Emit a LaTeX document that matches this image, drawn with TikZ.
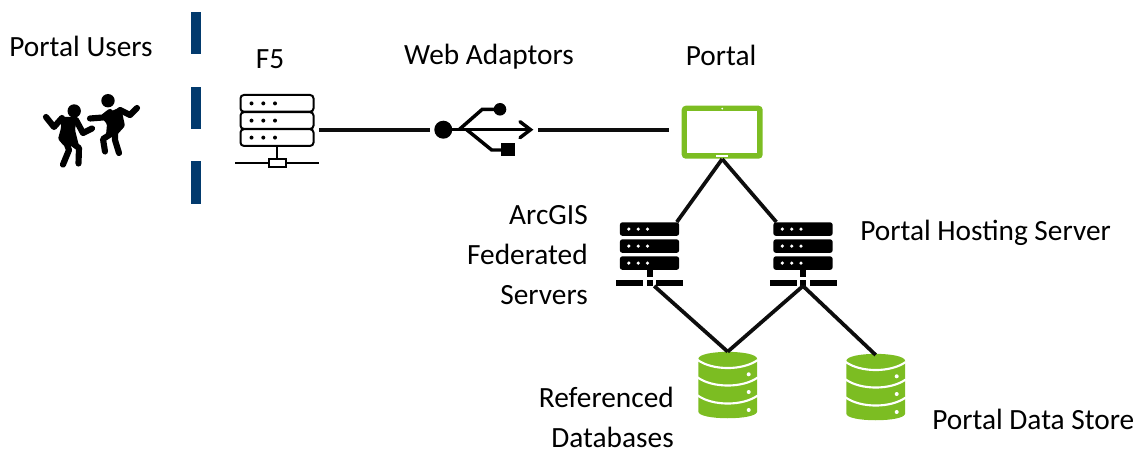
\documentclass[tikz,border=0pt]{standalone}
\usepackage{fontspec}
\setmainfont{Carlito}
\usepackage{xcolor}
\usepackage{tikz}
\usetikzlibrary{calc}
\usetikzlibrary{positioning}
\definecolor{barblue}{HTML}{023A6D}
\definecolor{iconkgreen}{HTML}{7CBD22}
\tikzstyle{lbl} = [draw=none, inner sep = 0, font=\fontsize{22}{30}\selectfont]
\tikzstyle{iconbox} = [draw=none, inner sep = 0, outer sep = 0]
\tikzstyle{wire} = [draw=black!95, line width = 2.8pt]
\tikzset{
  pics/srvoutline/.style={code={
    \foreach \rowy in {-34.7, -17.5, -0.5} {
      \draw [line width=1.5pt, rounded corners=2.5pt, fill=white] (-36.5,\rowy) rectangle (36.5,\rowy+16.7);
      \foreach \dotx in {-25.5, -13.7, -2} {
        \fill (\dotx,\rowy+8.4) circle (2);
      }
    }
    \draw [line width=1.5pt] (0,16.5) -- (0,29.7);
    \draw [line width=1.5pt] (-42,33.8) -- (42,33.8);
    \draw [line width=1.5pt, fill=white] (-8.5,29.6) rectangle (9,37.8);
  }},
  pics/srvblack/.style={code={
    \foreach \rowy in {-31.7, -14.7, 2.3} {
      \fill [rounded corners=2pt] (-29.7,\rowy) rectangle (29.7,\rowy+13.6);
      \foreach \dotx in {-20.7, -11.3, -2} {
        \fill [white] (\dotx,\rowy+6.8) circle (1.8);
      }
    }
    \fill (-3,16) rectangle (3,23);
    \fill (-33.5,26) rectangle (-6.5,32);
    \fill (-3,26) rectangle (3,32);
    \fill (6.5,26) rectangle (33.5,32);
  }},
  pics/dbgreen/.style={code={
    \fill [iconkgreen] (-29.4,-26) .. controls (-29.4,-35.5) and (29.4,-35.5) .. (29.4,-26)
      -- (29.4,26.5) .. controls (29.4,35.5) and (-29.4,35.5) .. (-29.4,26.5) -- cycle;
    \foreach \sidey in {-25, -7.5, 10.5} {
      \draw [white, line width=1.6pt] (-30,\sidey) .. controls (-15,\sidey+10.7) and (15,\sidey+10.7) .. (30,\sidey);
    }
    \foreach \doty in {-10.7, 7, 25} {
      \fill [white] (21,\doty) circle (2);
    }
  }},
  pics/tabletgreen/.style={code={
    \fill [iconkgreen, rounded corners=3pt] (-40.5,-24) rectangle (40.5,29);
    \fill [white] (-35,-18.4) rectangle (35,23);
    \fill [white] (0,-21) circle (1);
    \fill [white] (-6,25) rectangle (6.2,27.3);
  }},
  pics/usbplug/.style={code={
    \fill (-40.7,0) circle (9);
    \draw [line width=2pt] (-40,0) -- (46,0);
    \draw [line width=2.6pt, line cap=round] (36,-8) -- (46.5,0) -- (36,8);
    \draw [line width=2.6pt] (-25,0) -- (-1.7,-20.4) -- (14,-20.4);
    \fill (16,-20.4) circle (6.3);
    \draw [line width=2.6pt] (-17.3,0) -- (7.7,20.3) -- (20,20.3);
    \fill (17,13.6) rectangle (31,26.3);
  }},
  pics/dancers/.style={code={
    \tikzset{limb/.style={line width=4.6pt, line cap=round, line join=round}}
    % left figure
    \fill (74.2,111) circle (6.7);
    \draw [limb] (46,117) -- (54,127) -- (62,118);
    \fill [rounded corners=1pt] (61,117) -- (77,117) -- (75,130) -- (79,146) -- (64,146) -- (58,139) -- (61,128) -- cycle;
    \draw [limb] (76,120) -- (83,133) -- (92,128.5);
    \draw [limb] (66,142) -- (69,150) -- (63,164.5);
    \draw [limb] (68,140) -- (79,148) -- (78.5,163.5);
    % right figure
    \fill (108,100.7) circle (6.7);
    \draw [limb] (90,118.5) -- (103,117.5) -- (110,112);
    \draw [limb] (120,110) -- (130,115) -- (137,108);
    \fill [rounded corners=1pt] (100,116) -- (121,107) -- (125,126) -- (116,136) -- (106,135) -- (107,124) -- cycle;
    \draw [limb] (114,132) -- (103,139) -- (105,151.5);
    \draw [limb] (115,133) -- (115,140) -- (119,153);
  }}
}
\begin{document}
\begin{tikzpicture}[x=0.75pt, y=-0.75pt]
\useasboundingbox (0, 0) rectangle (1139, 449);
\foreach \bary in {33.2, 107.9, 182.5} {
  \node [iconbox, fill=barblue, minimum width=8pt, minimum height=31.7pt] at (196, \bary) {};
}
\node [iconbox, minimum width=63pt, minimum height=52pt] (f5) at (277, 129.7) {};
\node [iconbox, minimum width=81pt, minimum height=40pt] (usb) at (484, 129.7) {};
\node [iconbox, minimum width=79.5pt, minimum height=44pt] (portal) at (722.2, 129.7) {};
\node [iconbox, minimum width=50pt, minimum height=48pt] (fedsrv) at (649.5, 254) {};
\node [iconbox, minimum width=50pt, minimum height=48pt] (hostsrv) at (803, 254) {};
\node [iconbox, minimum width=44pt, minimum height=50pt] (refdb) at (727.7, 385) {};
\node [iconbox, minimum width=44pt, minimum height=50pt] (storedb) at (875.7, 387) {};
\coordinate (users) at (0, 0);

\pic at (users) {dancers};
\pic at (f5) {srvoutline};
\pic at (usb) {usbplug};
\pic at (portal) {tabletgreen};
\pic at (fedsrv) {srvblack};
\pic at (hostsrv) {srvblack};
\pic at (refdb) {dbgreen};
\pic at (storedb) {dbgreen};

\draw [wire] (f5.east) to (usb.west);
\draw [wire] (usb.east) to (portal.west);
\draw [wire] (portal.south) to ([xshift=-4.5pt]fedsrv.north east);
\draw [wire] (portal.south) to ([xshift=5pt]hostsrv.north west);
\draw [wire] ([xshift=3.5pt]fedsrv.south) to (refdb.north);
\draw [wire] (hostsrv.south) to (refdb.north);
\draw [wire] (hostsrv.south) to ([yshift=-1pt]storedb.north);

\node [lbl] (userslbl) at (81, 46.5) {Portal Users};
\node [lbl] (f5lbl) at (270, 59) {F5};
\node [lbl] (usblbl) at (489, 57) {Web Adaptors};
\node [lbl] (portallbl) at (721, 55) {Portal};
\node [lbl, align=right, anchor=east] (fedlbl) at (588, 255) {ArcGIS\\Federated\\Servers};
\node [lbl, anchor=west] (hostlbl) at (860, 233) {Portal Hosting Server};
\node [lbl, align=right, anchor=east] (reflbl) at (674, 417.5) {Referenced\\Databases};
\node [lbl, anchor=west] (storelbl) at (932, 419) {Portal Data Store};
\end{tikzpicture}
\end{document}
